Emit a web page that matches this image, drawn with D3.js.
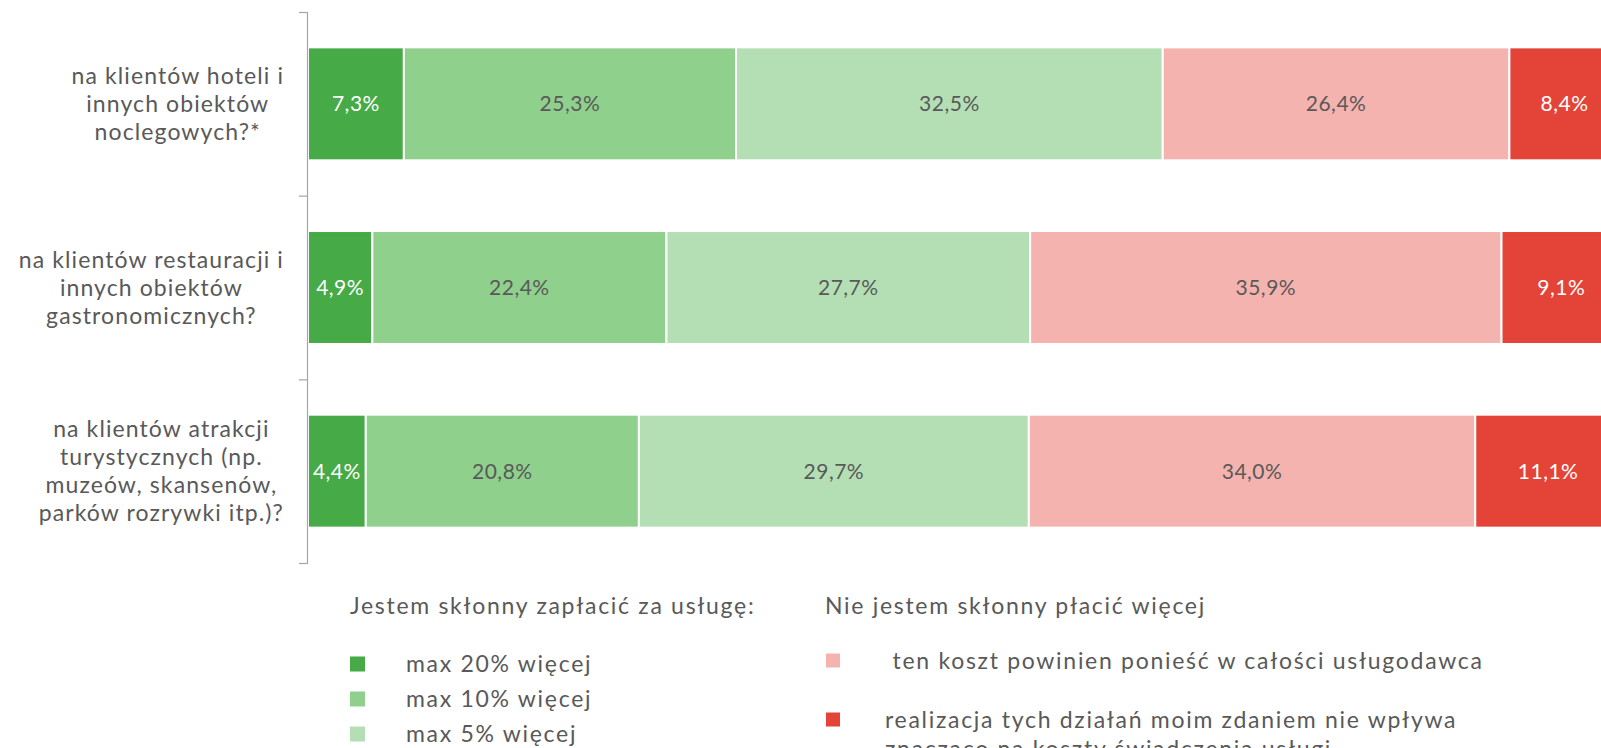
<!DOCTYPE html>
<html>
<head>
<meta charset="utf-8">
<script src="https://cdn.jsdelivr.net/npm/d3@7"></script>
<style>
  body { margin: 0; background: #fff; }
  svg { display: block; font-family: "Lato", "Open Sans", sans-serif; }
  text { fill: #595959; }
</style>
</head>
<body>
<script>
// categories (already wrapped the way the source shows them)
let categories = [
	["na klientów hoteli i", "innych obiektów", "noclegowych?*"],
	["na klientów restauracji i", "innych obiektów", "gastronomicznych?"],
	["na klientów atrakcji", "turystycznych (np.", "muzeów, skansenów,", "parków rozrywki itp.)?"]
];

// series, left to right in each bar
let seriesNames = ["max 20% więcej", "max 10% więcej", "max 5% więcej",
	" ten koszt powinien ponieść w całości usługodawca",
	"realizacja tych działań moim zdaniem nie wpływa znacząco na koszty świadczenia usługi"];
let seriesColors = ["#46aa46", "#8fd08d", "#b4dfb4", "#f4b3af", "#e44437"];
let labelColors = ["#ffffff", "#595959", "#595959", "#595959", "#ffffff"];

let max20 = [7.3, 4.9, 4.4];
let max10 = [25.3, 22.4, 20.8];
let max5 = [32.5, 27.7, 29.7];
let providerPays = [26.4, 35.9, 34.0];
let noImpact = [8.4, 9.1, 11.1];

let values = [max20, max10, max5, providerPays, noImpact];

// legend headers
let legendHeaders = ["Jestem skłonny zapłacić za usługę:", "Nie jestem skłonny płacić więcej"];

let width = 1601, height = 748;

let svg = d3.select("body").append("svg")
	.attr("width", width)
	.attr("height", height);

// scales: 100% runs past the right edge like in the source picture
let xScale = d3.scaleLinear().domain([0, 100]).range([308, 1621]);
let yScale = d3.scaleBand()
	.domain(d3.range(categories.length))
	.range([12, 563])
	.paddingInner(0.385)
	.paddingOuter(0.1925);

// stack the rows
let rows = categories.map(function(c, i) {
	let start = 0;
	return values.map(function(s, j) {
		let seg = {row: i, series: j, x0: start, x1: start + s[i], v: s[i]};
		start += s[i];
		return seg;
	});
});
let segments = d3.merge(rows);

svg.selectAll(".seg")
		.data(segments)
	.enter().append("rect")
		.attr("class", "seg")
		.attr("x", function(d) { return xScale(d.x0); })
		.attr("y", function(d) { return yScale(d.row); })
		.attr("width", function(d) { return xScale(d.x1) - xScale(d.x0); })
		.attr("height", yScale.bandwidth())
		.attr("fill", function(d) { return seriesColors[d.series]; })
		.attr("stroke", "#fff")
		.attr("stroke-width", 2);

svg.selectAll(".val")
		.data(segments)
	.enter().append("text")
		.attr("class", "val")
		.attr("x", function(d) { return xScale((d.x0 + d.x1) / 2); })
		.attr("y", function(d) { return yScale(d.row) + yScale.bandwidth() / 2; })
		.attr("dy", "0.35em")
		.attr("text-anchor", "middle")
		.style("font-size", "21px")
		.style("letter-spacing", "0.5px")
		.style("fill", function(d) { return labelColors[d.series]; })
		.text(function(d) { return d.v.toFixed(1).replace(".", ",") + "%"; });

// vertical axis with ticks between categories
let tickScale = d3.scaleLinear().domain([0, categories.length]).range([12, 563]);
let axis = svg.append("g")
	.attr("transform", "translate(307,0)")
	.call(d3.axisLeft(tickScale).ticks(categories.length).tickSize(8).tickFormat(""));
axis.selectAll("path, line").attr("stroke", "#a6a6a6").attr("stroke-width", 1.2);

// category labels, each line centred inside a right-aligned block
let lineH = 28;
let labelRight = 284;
let catG = svg.selectAll(".cat")
		.data(categories)
	.enter().append("g")
		.attr("class", "cat");

catG.each(function(lines, i) {
	let g = d3.select(this);
	let cy = yScale(i) + yScale.bandwidth() / 2;
	let t = g.selectAll("text")
			.data(lines)
		.enter().append("text")
			.attr("y", function(d, k) { return cy + (k - (lines.length - 1) / 2) * lineH; })
			.attr("dy", "0.35em")
			.attr("text-anchor", "middle")
			.style("font-size", "23px")
			.style("letter-spacing", "1.1px")
			.text(function(d) { return d; });
	let maxW = d3.max(t.nodes(), function(n) { return n.getComputedTextLength(); });
	t.attr("x", labelRight - maxW / 2);
});

// legend
let legend = svg.append("g")
	.style("font-size", "23px")
	.style("letter-spacing", "1.7px");

legend.selectAll(".lhead")
		.data(legendHeaders)
	.enter().append("text")
		.attr("x", function(d, i) { return i === 0 ? 350 : 825; })
		.attr("y", 606)
		.attr("dy", "0.35em")
		.text(function(d) { return d; });

// left column: three green items
let leftItems = [0, 1, 2];
let leftG = legend.selectAll(".litem")
		.data(leftItems)
	.enter().append("g")
		.attr("transform", function(d, k) { return "translate(350," + (664 + k * 35) + ")"; });
leftG.append("rect")
	.attr("x", 0).attr("y", -7.5)
	.attr("width", 15).attr("height", 15)
	.attr("fill", function(d) { return seriesColors[d]; });
leftG.append("text")
	.attr("x", 56)
	.attr("dy", "0.35em")
	.text(function(d) { return seriesNames[d]; });

// right column: two red items, the second wrapped on two lines
let rightLines = [[seriesNames[3]],
	["realizacja tych działań moim zdaniem nie wpływa", "znacząco na koszty świadczenia usługi"]];
let rightItems = [3, 4];
let rightG = legend.selectAll(".ritem")
		.data(rightItems)
	.enter().append("g")
		.attr("transform", function(d, k) { return "translate(826," + (661 + k * 59) + ")"; });
rightG.append("rect")
	.attr("x", 0).attr("y", -7.5)
	.attr("width", 14).attr("height", 14)
	.attr("fill", function(d) { return seriesColors[d]; });
rightG.each(function(d, k) {
	d3.select(this).selectAll("text")
			.data(rightLines[k])
		.enter().append("text")
			.attr("x", 59)
			.attr("y", function(l, m) { return m * 29; })
			.attr("dy", "0.35em")
			.style("white-space", "pre")
			.text(function(l) { return l; });
});
</script>
</body>
</html>
